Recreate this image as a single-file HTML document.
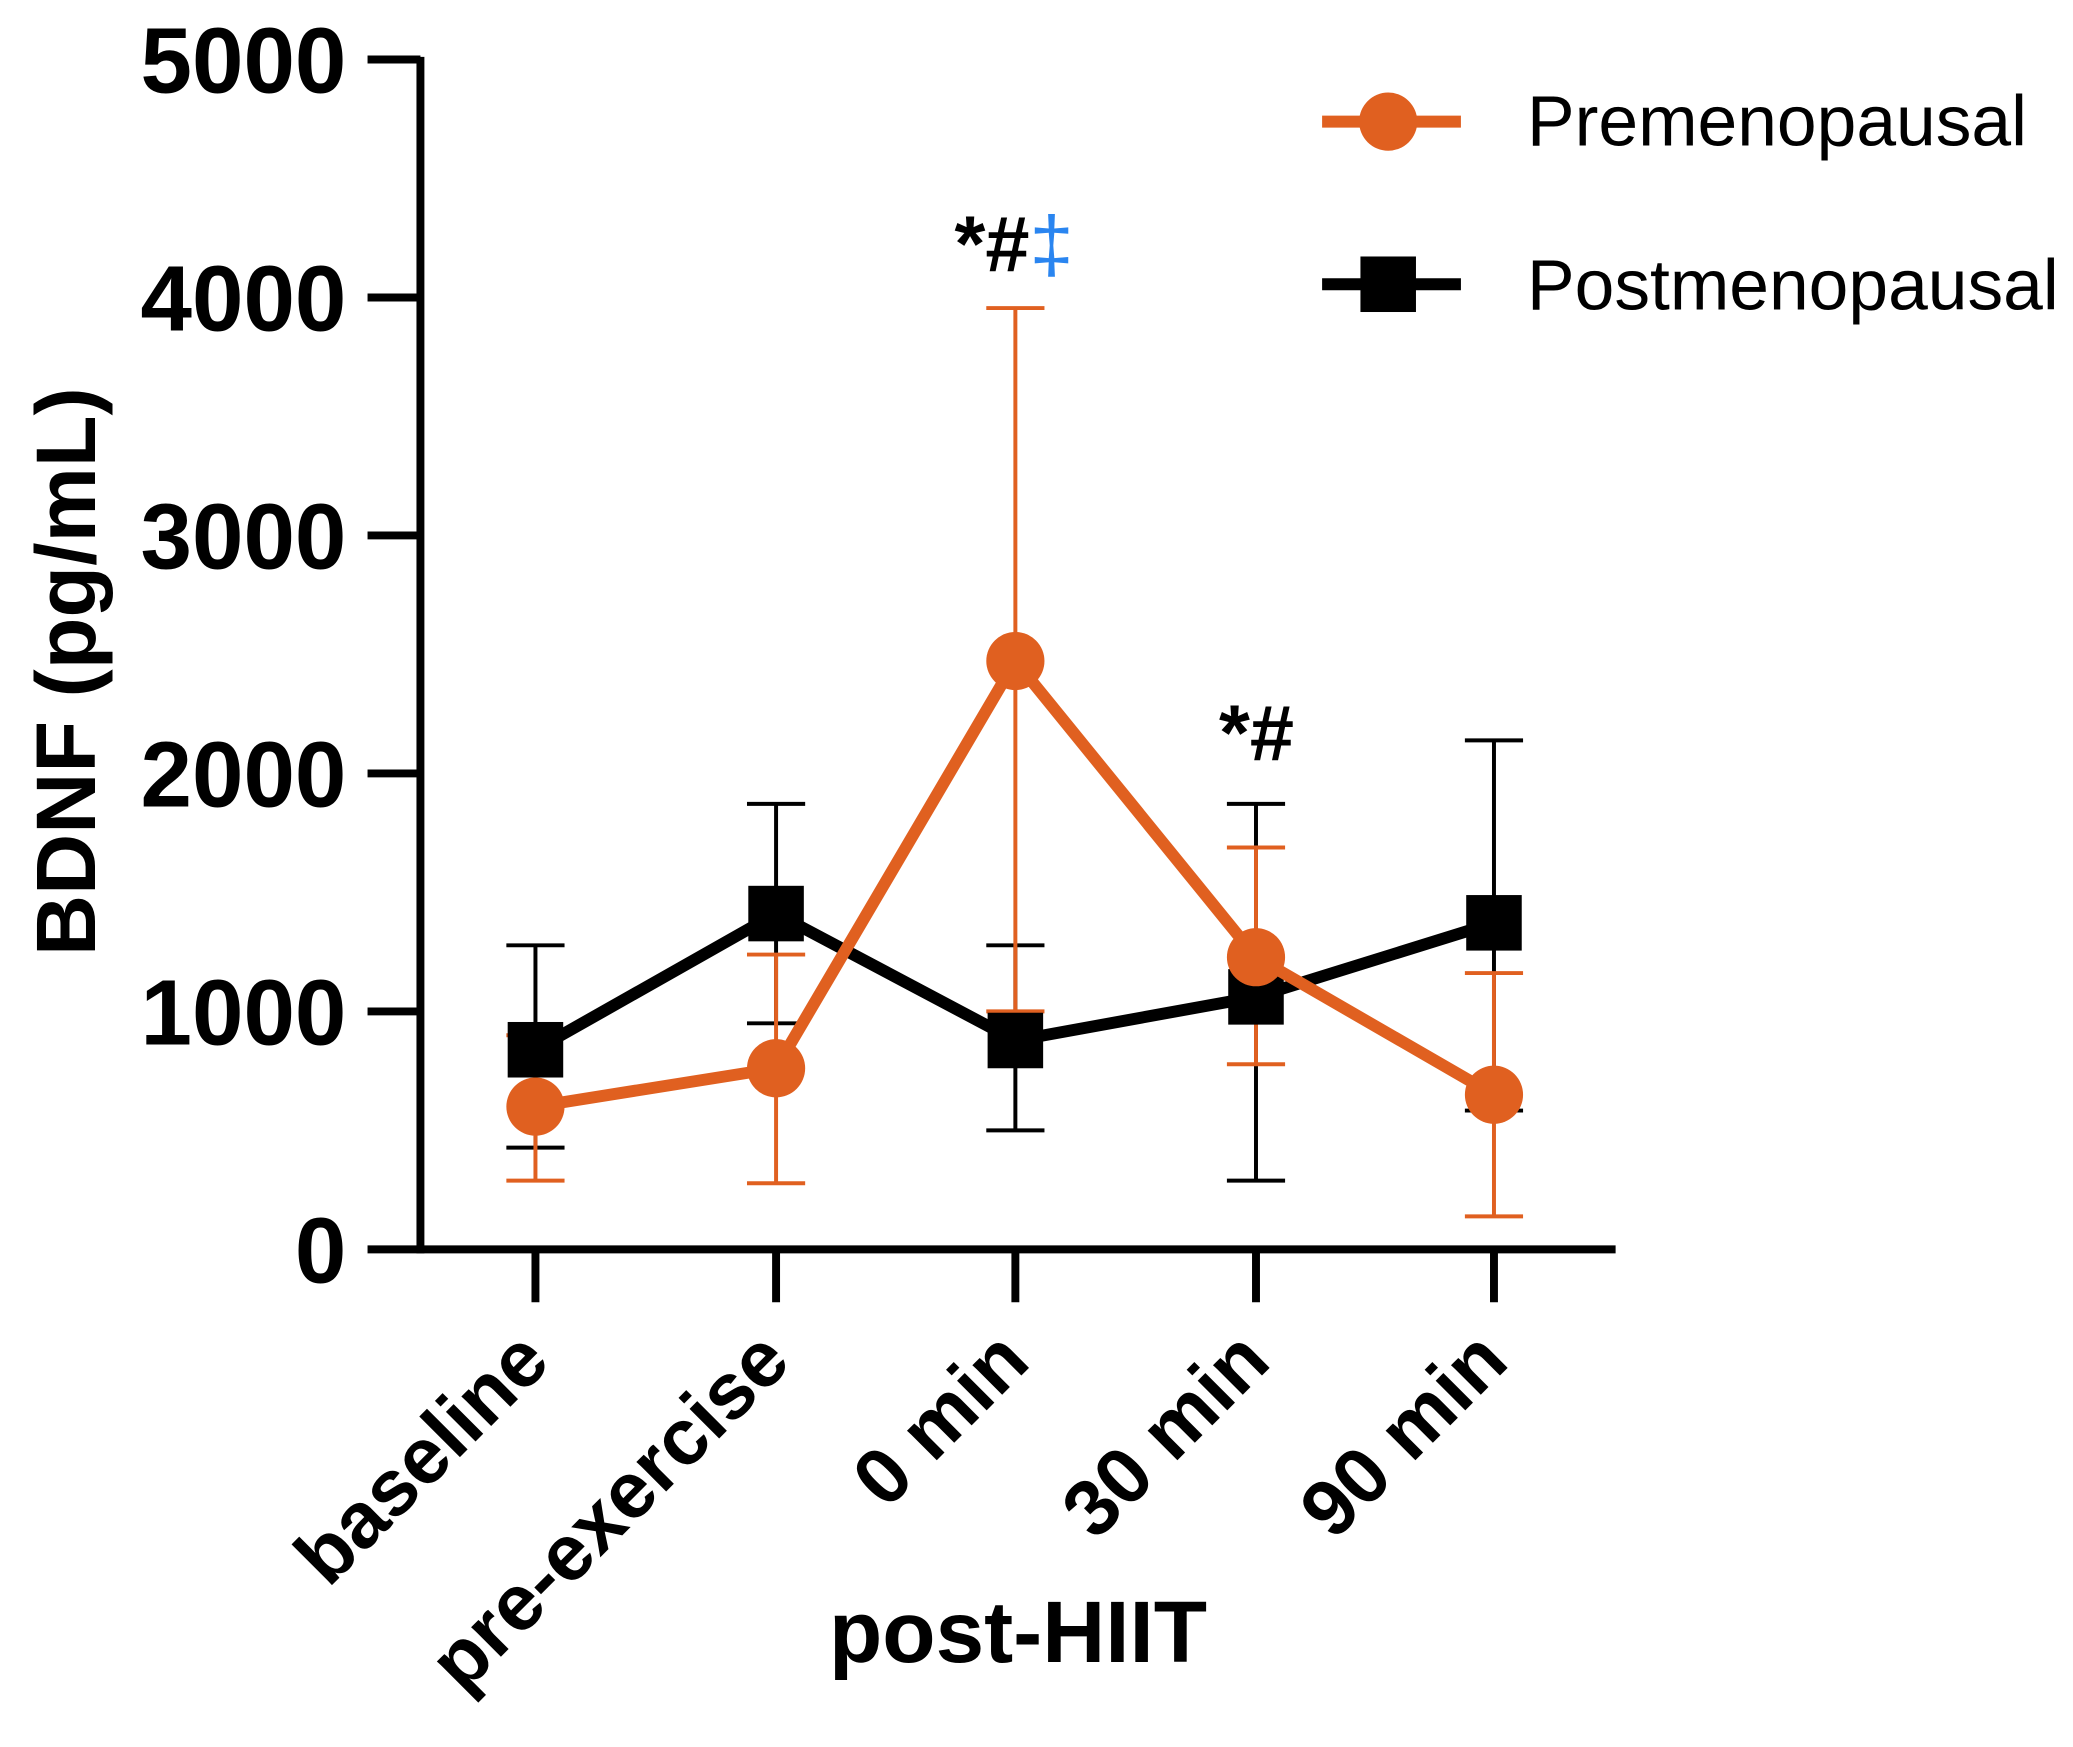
<!DOCTYPE html>
<html><head><style>html,body{margin:0;padding:0;background:#fff}svg{display:block}</style></head>
<body>
<svg width="2073" height="1747" viewBox="0 0 2073 1747" xmlns="http://www.w3.org/2000/svg">
<g transform="scale(1.3221)" font-family="Liberation Sans, Arial, sans-serif">
<line x1="318" y1="43" x2="318" y2="948" stroke="#000" stroke-width="6"/>
<line x1="278" y1="945" x2="1222" y2="945" stroke="#000" stroke-width="6"/>
<g stroke="#000" stroke-width="6">
<line x1="278" y1="45" x2="318" y2="45"/><line x1="278" y1="225" x2="318" y2="225"/>
<line x1="278" y1="405" x2="318" y2="405"/><line x1="278" y1="585" x2="318" y2="585"/>
<line x1="278" y1="765" x2="318" y2="765"/>
<line x1="405" y1="945" x2="405" y2="985"/><line x1="587" y1="945" x2="587" y2="985"/>
<line x1="768" y1="945" x2="768" y2="985"/><line x1="950" y1="945" x2="950" y2="985"/>
<line x1="1130" y1="945" x2="1130" y2="985"/>
</g>
<g font-size="70" font-weight="bold" text-anchor="end">
<text x="262" y="70">5000</text><text x="262" y="250">4000</text><text x="262" y="430">3000</text>
<text x="262" y="610">2000</text><text x="262" y="790">1000</text><text x="262" y="970">0</text>
</g>
<text transform="translate(72,508) rotate(-90)" font-size="64" font-weight="bold" text-anchor="middle">BDNF (pg/mL)</text>
<g font-size="60" font-weight="bold" text-anchor="end">
<text transform="translate(418,1032) rotate(-45)">baseline</text>
<text transform="translate(600,1032) rotate(-45)">pre-exercise</text>
<text transform="translate(781,1032) rotate(-45)">0 min</text>
<text transform="translate(963,1032) rotate(-45)">30 min</text>
<text transform="translate(1143,1032) rotate(-45)">90 min</text>
</g>
<text x="770" y="1257" font-size="66" font-weight="bold" text-anchor="middle">post-HIIT</text>

<g stroke="#000" stroke-width="3">
<line x1="405" y1="868" x2="405" y2="715"/><line x1="383" y1="868" x2="427" y2="868"/><line x1="383" y1="715" x2="427" y2="715"/>
<line x1="587" y1="774" x2="587" y2="608"/><line x1="565" y1="774" x2="609" y2="774"/><line x1="565" y1="608" x2="609" y2="608"/>
<line x1="768" y1="855" x2="768" y2="715"/><line x1="746" y1="855" x2="790" y2="855"/><line x1="746" y1="715" x2="790" y2="715"/>
<line x1="950" y1="893" x2="950" y2="608"/><line x1="928" y1="893" x2="972" y2="893"/><line x1="928" y1="608" x2="972" y2="608"/>
<line x1="1130" y1="840" x2="1130" y2="560"/><line x1="1108" y1="840" x2="1152" y2="840"/><line x1="1108" y1="560" x2="1152" y2="560"/>
</g>
<g stroke="#E06020" stroke-width="3">
<line x1="405" y1="893" x2="405" y2="783"/><line x1="383" y1="893" x2="427" y2="893"/><line x1="383" y1="783" x2="427" y2="783"/>
<line x1="587" y1="895" x2="587" y2="722"/><line x1="565" y1="895" x2="609" y2="895"/><line x1="565" y1="722" x2="609" y2="722"/>
<line x1="768" y1="765" x2="768" y2="233"/><line x1="746" y1="765" x2="790" y2="765"/><line x1="746" y1="233" x2="790" y2="233"/>
<line x1="950" y1="805" x2="950" y2="641"/><line x1="928" y1="805" x2="972" y2="805"/><line x1="928" y1="641" x2="972" y2="641"/>
<line x1="1130" y1="920" x2="1130" y2="736"/><line x1="1108" y1="920" x2="1152" y2="920"/><line x1="1108" y1="736" x2="1152" y2="736"/>
</g>
<polyline points="405,794 587,691 768,787 950,754 1130,698" fill="none" stroke="#000" stroke-width="9" stroke-linejoin="round"/>
<g fill="#000">
<rect x="384" y="773" width="42" height="42"/><rect x="566" y="670" width="42" height="42"/>
<rect x="747" y="766" width="42" height="42"/><rect x="929" y="733" width="42" height="42"/>
<rect x="1109" y="677" width="42" height="42"/>
</g>
<polyline points="405,837 587,808 768,500 950,724 1130,828" fill="none" stroke="#E06020" stroke-width="9" stroke-linejoin="round"/>
<g fill="#E06020">
<circle cx="405" cy="837" r="22"/><circle cx="587" cy="808" r="22"/><circle cx="768" cy="500" r="22"/>
<circle cx="950" cy="724" r="22"/><circle cx="1130" cy="828" r="22"/>
</g>
<text x="722" y="205" font-size="60" font-weight="bold">*#<tspan fill="#2A85F0" font-weight="normal">‡</tspan></text>
<text x="922" y="575" font-size="60" font-weight="bold">*#</text>
<line x1="1000" y1="92" x2="1105" y2="92" stroke="#E06020" stroke-width="9"/>
<circle cx="1050" cy="92" r="22" fill="#E06020"/>
<text x="1155" y="110" font-size="54">Premenopausal</text>
<line x1="1000" y1="215" x2="1105" y2="215" stroke="#000" stroke-width="9"/>
<rect x="1029" y="194" width="42" height="42" fill="#000"/>
<text x="1155" y="234" font-size="54">Postmenopausal</text>
</g>
</svg>
</body></html>
